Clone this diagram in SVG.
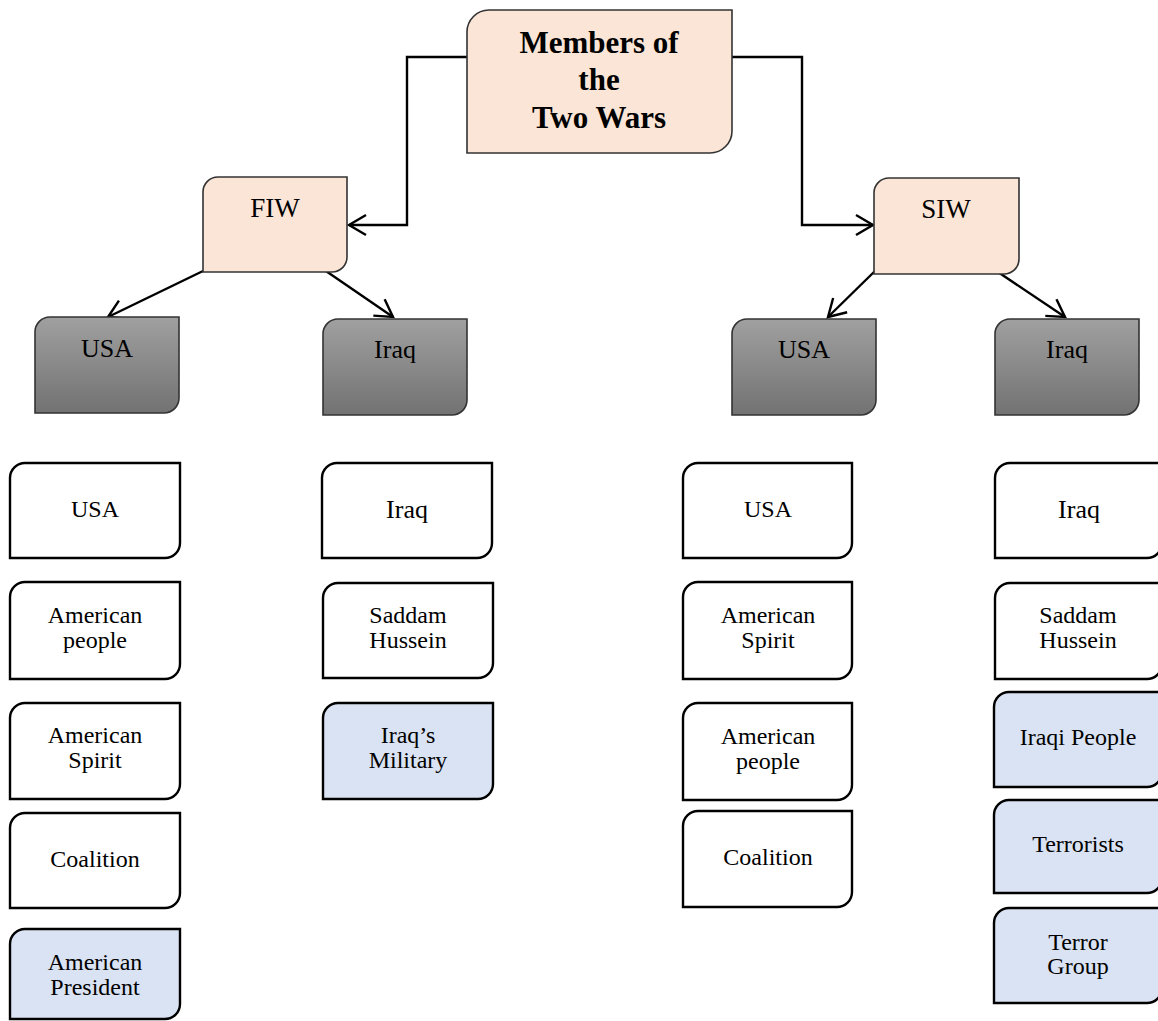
<svg xmlns="http://www.w3.org/2000/svg" width="1158" height="1021" viewBox="0 0 1158 1021">
<style>
text{font-family:"Liberation Serif","Times New Roman",serif;fill:#000;text-anchor:middle}
.t24{font-size:24px}.t26{font-size:26px}.t27{font-size:27px}
.title{font-size:31px;font-weight:bold}
.peach{fill:#FBE5D6;stroke:#333;stroke-width:1.6}
.gray{fill:url(#g);stroke:#333;stroke-width:1.6}
.white{fill:#fff;stroke:#000;stroke-width:2.4}
.blue{fill:#DAE3F3;stroke:#000;stroke-width:2.4}
.con{fill:none;stroke:#000;stroke-width:2.4}
</style>
<defs>
<linearGradient id="g" x1="0" y1="0" x2="0" y2="1"><stop offset="0" stop-color="#a0a0a0"/><stop offset="1" stop-color="#727272"/></linearGradient>
<marker id="arr" markerWidth="24" markerHeight="24" refX="17" refY="10" orient="auto" markerUnits="userSpaceOnUse" overflow="visible"><path d="M0,0 L17,10 L0,20" fill="none" stroke="#000" stroke-width="2.4"/></marker>
</defs>
<g id="connectors">
<path class="con" d="M467,57 H407 V225 H349" marker-end="url(#arr)"/>
<path class="con" d="M732,57 H802 V225 H873" marker-end="url(#arr)"/>
<path class="con" d="M203,271 L108,317" marker-end="url(#arr)"/>
<path class="con" d="M323,269 L393,317" marker-end="url(#arr)"/>
<path class="con" d="M875,271 L828,317" marker-end="url(#arr)"/>
<path class="con" d="M995,270 L1065,317" marker-end="url(#arr)"/>
</g>
<g id="top"><path class="peach" d="M467,32 a22,22 0 0 1 22,-22 H732 V131 a22,22 0 0 1 -22,22 H467 Z"/>
<text class="title" x="599" y="53">Members of</text><text class="title" x="599" y="90">the</text><text class="title" x="599" y="128">Two Wars</text></g>
<g id="fiw"><path class="peach" d="M203,192 a15,15 0 0 1 15,-15 H347 V257 a15,15 0 0 1 -15,15 H203 Z"/><text class="t27" x="275" y="217">FIW</text></g>
<g id="siw"><path class="peach" d="M874,193 a15,15 0 0 1 15,-15 H1019 V259 a15,15 0 0 1 -15,15 H874 Z"/><text class="t27" x="946" y="218">SIW</text></g>
<g id="fiw-usa"><path class="gray" d="M35,332 a15,15 0 0 1 15,-15 H179 V398 a15,15 0 0 1 -15,15 H35 Z"/><text class="t26" x="107" y="357">USA</text></g>
<g id="fiw-iraq"><path class="gray" d="M323,334 a15,15 0 0 1 15,-15 H467 V400 a15,15 0 0 1 -15,15 H323 Z"/><text class="t26" x="395" y="358">Iraq</text></g>
<g id="siw-usa"><path class="gray" d="M732,334 a15,15 0 0 1 15,-15 H876 V400 a15,15 0 0 1 -15,15 H732 Z"/><text class="t26" x="804" y="358">USA</text></g>
<g id="siw-iraq"><path class="gray" d="M995,334 a15,15 0 0 1 15,-15 H1139 V400 a15,15 0 0 1 -15,15 H995 Z"/><text class="t26" x="1067" y="358">Iraq</text></g>
<g id="a1"><path class="white" d="M10,478 a15,15 0 0 1 15,-15 H180 V543 a15,15 0 0 1 -15,15 H10 Z"/><text class="t24" x="95" y="517">USA</text></g>
<g id="a2"><path class="white" d="M10,597 a15,15 0 0 1 15,-15 H180 V664 a15,15 0 0 1 -15,15 H10 Z"/><text class="t24" x="95" y="623">American</text><text class="t24" x="95" y="648">people</text></g>
<g id="a3"><path class="white" d="M10,718 a15,15 0 0 1 15,-15 H180 V784 a15,15 0 0 1 -15,15 H10 Z"/><text class="t24" x="95" y="743">American</text><text class="t24" x="95" y="768">Spirit</text></g>
<g id="a4"><path class="white" d="M10,828 a15,15 0 0 1 15,-15 H180 V893 a15,15 0 0 1 -15,15 H10 Z"/><text class="t24" x="95" y="867">Coalition</text></g>
<g id="a5"><path class="blue" d="M10,944 a15,15 0 0 1 15,-15 H180 V1004 a15,15 0 0 1 -15,15 H10 Z"/><text class="t24" x="95" y="970">American</text><text class="t24" x="95" y="995">President</text></g>
<g id="b1"><path class="white" d="M322,478 a15,15 0 0 1 15,-15 H492 V543 a15,15 0 0 1 -15,15 H322 Z"/><text class="t26" x="407" y="518">Iraq</text></g>
<g id="b2"><path class="white" d="M323,598 a15,15 0 0 1 15,-15 H493 V663 a15,15 0 0 1 -15,15 H323 Z"/><text class="t24" x="408" y="623">Saddam</text><text class="t24" x="408" y="648">Hussein</text></g>
<g id="b3"><path class="blue" d="M323,718 a15,15 0 0 1 15,-15 H493 V784 a15,15 0 0 1 -15,15 H323 Z"/><text class="t24" x="408" y="743">Iraq’s</text><text class="t24" x="408" y="768">Military</text></g>
<g id="c1"><path class="white" d="M683,478 a15,15 0 0 1 15,-15 H852 V543 a15,15 0 0 1 -15,15 H683 Z"/><text class="t24" x="768" y="517">USA</text></g>
<g id="c2"><path class="white" d="M683,597 a15,15 0 0 1 15,-15 H852 V664 a15,15 0 0 1 -15,15 H683 Z"/><text class="t24" x="768" y="623">American</text><text class="t24" x="768" y="648">Spirit</text></g>
<g id="c3"><path class="white" d="M683,718 a15,15 0 0 1 15,-15 H852 V785 a15,15 0 0 1 -15,15 H683 Z"/><text class="t24" x="768" y="744">American</text><text class="t24" x="768" y="769">people</text></g>
<g id="c4"><path class="white" d="M683,826 a15,15 0 0 1 15,-15 H852 V892 a15,15 0 0 1 -15,15 H683 Z"/><text class="t24" x="768" y="865">Coalition</text></g>
<g id="d1"><path class="white" d="M995,478 a15,15 0 0 1 15,-15 H1162 V543 a15,15 0 0 1 -15,15 H995 Z"/><text class="t26" x="1079" y="518">Iraq</text></g>
<g id="d2"><path class="white" d="M995,598 a15,15 0 0 1 15,-15 H1162 V664 a15,15 0 0 1 -15,15 H995 Z"/><text class="t24" x="1078" y="623">Saddam</text><text class="t24" x="1078" y="648">Hussein</text></g>
<g id="d3"><path class="blue" d="M994,707 a15,15 0 0 1 15,-15 H1162 V772 a15,15 0 0 1 -15,15 H994 Z"/><text class="t24" x="1078" y="745">Iraqi People</text></g>
<g id="d4"><path class="blue" d="M994,815 a15,15 0 0 1 15,-15 H1162 V878 a15,15 0 0 1 -15,15 H994 Z"/><text class="t24" x="1078" y="852">Terrorists</text></g>
<g id="d5"><path class="blue" d="M994,923 a15,15 0 0 1 15,-15 H1162 V988 a15,15 0 0 1 -15,15 H994 Z"/><text class="t24" x="1078" y="950">Terror</text><text class="t24" x="1078" y="974">Group</text></g>
</svg>
